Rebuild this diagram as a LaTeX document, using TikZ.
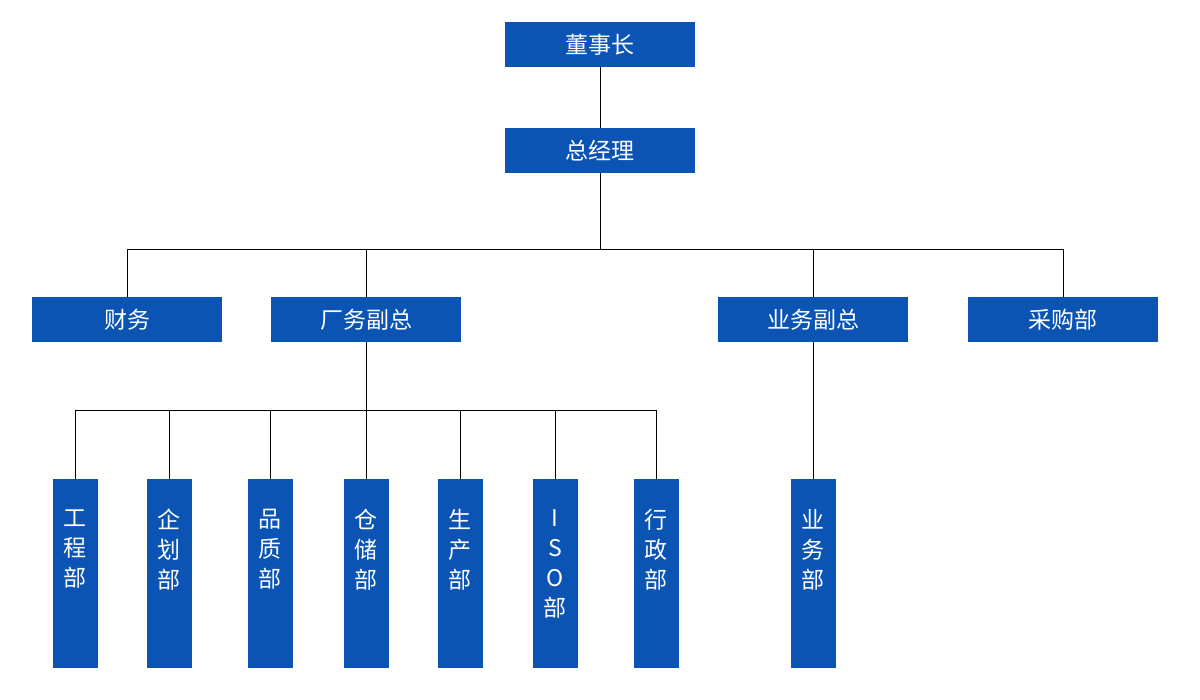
\documentclass[tikz,border=0pt]{standalone}
\usepackage{fontspec}
\setmainfont{Noto Sans CJK SC}
\definecolor{boxblue}{RGB}{11,84,180}
\begin{document}
\begin{tikzpicture}[x=0.5pt,y=-0.5pt,
  hbox/.style={fill=boxblue, minimum width=95pt, minimum height=22.5pt, inner sep=0pt, text=white, font=\fontsize{11.5}{14}\selectfont},
  vbox/.style={fill=boxblue, minimum width=22.5pt, minimum height=94.5pt, inner sep=0pt},
  vtext/.style={text=white, align=center, anchor=north, inner sep=0pt, font=\fontsize{11.5}{15}\selectfont},
  link/.style={draw=black, line width=0.5pt}]
\useasboundingbox[fill=white] (0,0) rectangle (1200,700);
% top level
\node[hbox] (dsz) at (600,44.5) {董事长};
\node[hbox] (zjl) at (600,150.5) {总经理};
% second level
\node[hbox] (cw) at (127,319.5) {财务};
\node[hbox] (cwfz) at (366,319.5) {厂务副总};
\node[hbox] (ywfz) at (813,319.5) {业务副总};
\node[hbox] (cgb) at (1063,319.5) {采购部};
% third level
\node[vbox] (gcb) at (75,573.5) {};
\node[vbox] (qhb) at (169,573.5) {};
\node[vbox] (pzb) at (270,573.5) {};
\node[vbox] (ccb) at (366,573.5) {};
\node[vbox] (scb) at (460,573.5) {};
\node[vbox] (isob) at (555,573.5) {};
\node[vbox] (xzb) at (656,573.5) {};
\node[vbox] (ywb) at (813,573.5) {};
\node[vtext] (t1) at (75,509) {工\\程\\部};
\node[vtext] (t2) at (169,509) {企\\划\\部};
\node[vtext] (t3) at (270,509) {品\\质\\部};
\node[vtext] (t4) at (366,509) {仓\\储\\部};
\node[vtext] (t5) at (460,509) {生\\产\\部};
\node[vtext] (t6) at (555,509) {I\\S\\O\\部};
\node[vtext] (t7) at (656,509) {行\\政\\部};
\node[vtext] (t8) at (813,509) {业\\务\\部};
% connectors
\coordinate (bus1) at (600,250);
\coordinate (bus2) at (366,410);
\draw[link] (dsz.south) -- (zjl.north);
\draw[link] (zjl.south) -- (bus1);
\foreach \n in {cw,cwfz,ywfz,cgb}{\draw[link] (bus1) -| (\n.north);}
\draw[link] (cwfz.south) -- (bus2);
\foreach \n in {gcb,qhb,pzb,ccb,scb,isob,xzb}{\draw[link] (bus2) -| (\n.north);}
\draw[link] (ywfz.south) -- (ywb.north);
\end{tikzpicture}
\end{document}
